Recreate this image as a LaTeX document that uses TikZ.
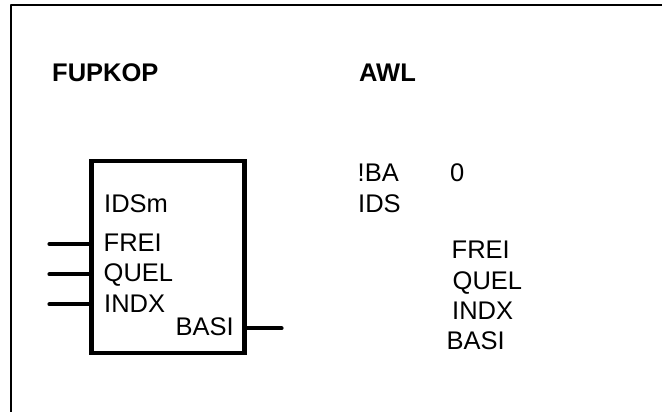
\documentclass[tikz,border=0pt]{standalone}
\usepackage{fontspec}
\setmainfont{Liberation Sans}
\usetikzlibrary{positioning}
\tikzset{
	lbl/.style={anchor=base west, inner sep=0pt, font=\fontsize{25.5}{30}\selectfont},
	head/.style={lbl, font=\fontsize{25.5}{30}\selectfont\bfseries},
	pin/.style={line width=4.2pt, line cap=round},
}
\begin{document}
\begin{tikzpicture}[line cap=round,line join=round,x=1pt,y=-1pt]
		\useasboundingbox (0,0) rectangle (662,412);
		\draw[color=black, line width=1.3pt] (11,412) -- (11,5) -- (662,5);
		% headings
		\node[head] (fupkop) at (52,81.5) {FUPKOP};
		\node[head] (awl) at (359,81.5) {AWL};
		% function block
		\node[draw, line width=4.2pt, line join=miter, minimum width=153pt, minimum height=192.5pt, inner sep=0pt, anchor=north west] (blk) at (89.3,158.5) {};
		\node[lbl] (idsm) at (104,212.5) {IDSm};
		\node[lbl] (frei) at (103.5,251) {FREI};
		\node[lbl] (quel) at (103.5,281.5) {QUEL};
		\node[lbl] (indx) at (104,312.5) {INDX};
		\node[lbl] (basi) at (175.5,335) {BASI};
		\coordinate (frei in) at (49.5,244);
		\coordinate (quel in) at (49.5,274.3);
		\coordinate (indx in) at (49.5,304.3);
		\coordinate (basi out) at (281.5,328.3);
		\draw[pin] (frei in) -- (frei in -| blk.west);
		\draw[pin] (quel in) -- (quel in -| blk.west);
		\draw[pin] (indx in) -- (indx in -| blk.west);
		\draw[pin] (basi out -| blk.east) -- (basi out);
		% statement list
		\node[lbl] (ba) at (357.5,181.5) {!BA};
		\node[lbl] (nul) at (450,181.5) {0};
		\node[lbl] (ids) at (358,212.5) {IDS};
		\node[lbl] (frei2) at (451.5,258.5) {FREI};
		\node[lbl] (quel2) at (452.5,289.5) {QUEL};
		\node[lbl] (indx2) at (452,319.5) {INDX};
		\node[lbl] (basi2) at (446.5,349.5) {BASI};
	\end{tikzpicture}
\end{document}
